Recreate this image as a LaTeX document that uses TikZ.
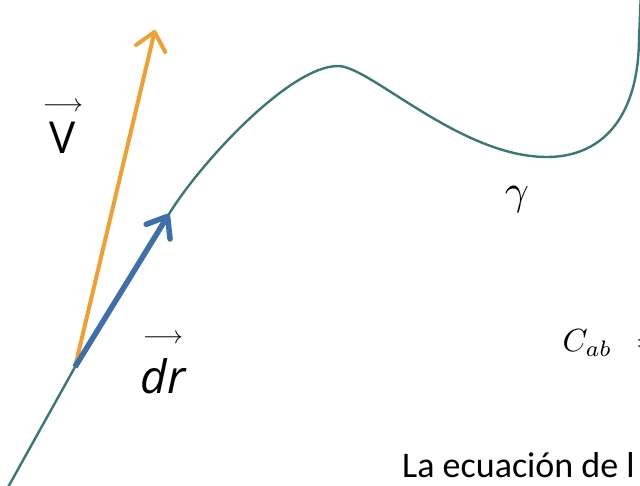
\documentclass[tikz,border=0pt]{standalone}
\usepackage{fontspec}
\usetikzlibrary{arrows.meta,positioning}
\newfontfamily\handfont{Open Sans}
\newfontfamily\capfont{Carlito}
\definecolor{curveteal}{HTML}{3A7876}
\definecolor{vorange}{HTML}{F0A030}
\definecolor{drblue}{HTML}{3F6FAA}
\tikzset{
  curve/.style={draw=curveteal, line width=2.4pt},
  vecarr/.style={line width=4pt, color=vorange, -{Straight Barb[length=17pt, width=30pt, round]}},
  drarr/.style={line width=5.5pt, color=drblue, -{Straight Barb[length=18pt, width=28pt, round]}},
  handlab/.style={font=\handfont, text=black, align=center, inner sep=0pt},
  mathlab/.style={text=black, inner sep=0pt}
}
\begin{document}
\begin{tikzpicture}[x=1pt,y=-1pt]

\useasboundingbox (0,0) rectangle (640,486);
\clip (0,0) rectangle (640,486);

% ---------------- Curve gamma ----------------
\coordinate (p) at (75,367);
\coordinate (vtip) at (155,30);
\coordinate (drtip) at (169,214);
\draw[curve] (-3,507) -- (p) -- (drtip)
  .. controls (201,162) and (290,66) .. (338,66)
  .. controls (370,66) and (460,157) .. (547,157)
  .. controls (600,157) and (638,120) .. (639,40) -- (641,-10);

% ---------------- Vectors ----------------
\draw[vecarr] (p) -- (vtip);
\draw[drarr] (p) -- (drtip);

% ---------------- Labels ----------------
\node[handlab, anchor=south] (vlab) at (63,154)
  {{\fontsize{24}{24}\selectfont$\longrightarrow$}\\[10pt]{\fontsize{44}{44}\selectfont V}};
\node[handlab, anchor=south] (drlab) at (163,394)
  {{\fontsize{24}{24}\selectfont$\longrightarrow$}\\[14pt]{\fontsize{46}{46}\selectfont\itshape dr}};
\node[mathlab, scale=4.2] (gam) at (517,200) {$\gamma$};
\node[mathlab, scale=3.2, anchor=base west] (cab) at (562,352) {$C_{ab}\hspace{4.8pt}=$};
\node[mathlab, font=\capfont\fontsize{36}{36}\selectfont, anchor=base west] (eq) at (402,477) {La ecuación de l};

\end{tikzpicture}
\end{document}
